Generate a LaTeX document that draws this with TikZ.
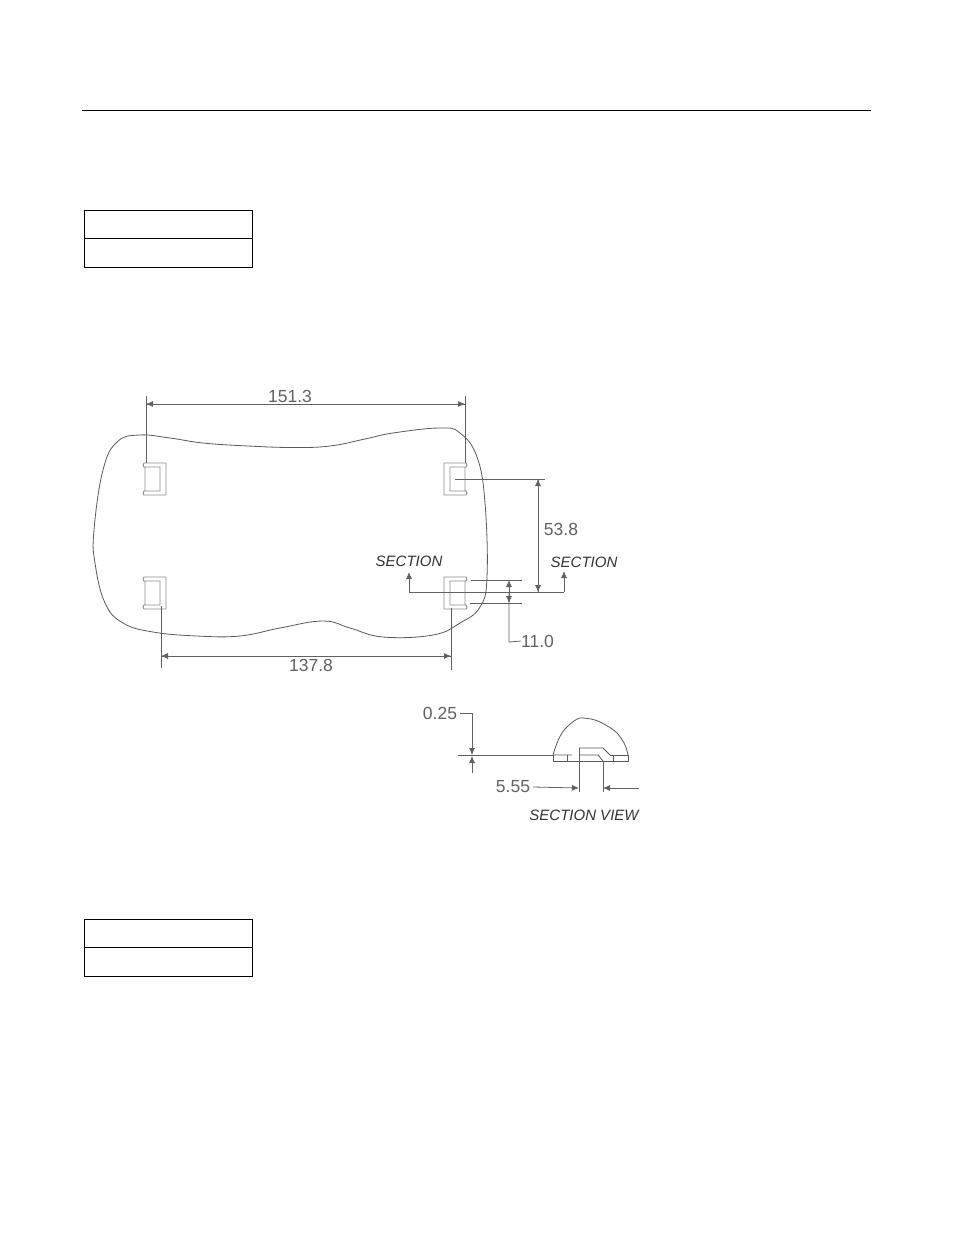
\documentclass[tikz,border=0pt]{standalone}
\usepackage{fontspec}
\setmainfont{Liberation Sans}
\usetikzlibrary{arrows.meta}
\definecolor{linegray}{gray}{0.38}
\tikzset{
  dimline/.style={draw=linegray,line width=0.8pt},
  dimtext/.style={text=linegray,inner sep=0pt,font=\fontsize{17.5}{20}\selectfont},
  sectext/.style={text=black!80,inner sep=0pt,font=\fontsize{15}{18}\selectfont\itshape},
  tip/.style={-{Latex[length=7pt,width=6pt]}},
  blockline/.style={draw=black,line width=0.9pt},
  partline/.style={draw=black!65,line width=0.8pt},
  clipline/.style={draw=black!45,line width=0.9pt,line join=round}
}
\begin{document}
\begin{tikzpicture}[x=1pt,y=-1pt]
\useasboundingbox[fill=white] (0,0) rectangle (954,1235);
\draw[black,line width=0.8pt] (82,110) -- (871,110); % top rule
\foreach \y in {210,919} % edit here for the two empty tables
{
\draw[blockline] (84,\y) rectangle (252,\y+57);
\draw[blockline] (84,\y+28.5) -- (252,\y+28.5);
}
% outline of the part
\draw[partline] plot[smooth cycle,tension=0.7] coordinates {(139,435) (170,438) (203,443) (248,446) (293,447.5) (330,446)
 (365,439) (393,433) (440,428) (460,433) (477,457) (485,503) (487,577) (480,607) (460,623) (433,635) (383,637)
 (350,628) (323,621) (280,628) (240,636) (197,636) (153,632) (123,623) (105,603) (95,563) (94,530) (103,470) (117,442)};
% clips, edit here for their places
\foreach \x/\y/\s in {143/463/1,143/577/1,467/463/-1,467/577/-1}
\draw[clipline,shift={(\x,\y)},xscale=\s] (1,4) -- (0,2) -- (1,0) -- (23,0) -- (23,32) -- (1,32) -- (0,30) -- (1,28)
 -- (17,28) -- (17,4) -- (1,4) -- cycle (2,4) -- (2,28);
% dimension 151.3
\coordinate (topa) at (146,404);
\coordinate (topb) at (465,404);
\draw[dimline] (146,396) -- (146,463);
\draw[dimline] (465,396) -- (465,463);
\draw[dimline,tip] (topb) -- (topa);
\draw[dimline,tip] (topa) -- (topb);
\node[dimtext] (lenTop) at (290,396) {151.3};
% dimension 137.8
\coordinate (bota) at (161,656);
\coordinate (botb) at (451,656);
\draw[dimline] (161,606) -- (161,668);
\draw[dimline] (451,608) -- (451,670);
\draw[dimline,tip] (botb) -- (bota);
\draw[dimline,tip] (bota) -- (botb);
\node[dimtext] (lenBot) at (311,665) {137.8};
% dimension 53.8
\coordinate (rgta) at (538,479);
\coordinate (rgtb) at (538,592);
\draw[dimline] (455,479) -- (545,479);
\draw[dimline,tip] (rgtb) -- (rgta);
\draw[dimline,tip] (rgta) -- (rgtb);
\node[dimtext] (lenRgt) at (561,529) {53.8};
% section line
\coordinate (secl) at (409,592);
\coordinate (secr) at (564,592);
\coordinate (secla) at (409,572);
\coordinate (secra) at (564,571);
\draw[dimline,tip] (secl) -- (secla);
\draw[dimline,tip] (secr) -- (secra);
\draw[dimline] (secl) -- (secr);
\node[sectext] (secL) at (409,561) {SECTION};
\node[sectext] (secR) at (584,562) {SECTION};
% dimension 11.0
\coordinate (elva) at (509,580);
\coordinate (elvb) at (509,603);
\coordinate (elvc) at (509,592);
\coordinate (elvd) at (509,642);
\draw[dimline] (471,580) -- (522,580);
\draw[dimline] (470,603) -- (522,603);
\draw[dimline,tip] (elvc) -- (elva);
\draw[dimline,tip] (elvc) -- (elvb);
\node[dimtext,anchor=west] (lenElv) at (521,641) {11.0};
\draw[dimline] (elvc) -- (elvd) -- (lenElv.west);
% section view
\draw[partline] (553,755) .. controls (556,745) and (560,733) .. (567,727) .. controls (572,722) and (576,719) .. (580,718)
 .. controls (590,718) and (596,720) .. (600,722) .. controls (608,726) and (613,729) .. (617,733)
 .. controls (623,740) and (626,745) .. (628,755);
\draw[partline] (553,755) -- (553,761) -- (628,761) -- (628,755) -- (610,755);
\draw[partline] (553,755) -- (572,755) (579,755) -- (598,755) -- (603,761);
\draw[partline] (567,755) -- (567,761) (613,755) -- (613,761);
\draw[partline] (579,748) -- (603,748) -- (610,755);
% dimension 0.25
\node[dimtext] (lenGap) at (440,713) {0.25};
\coordinate (gapa) at (472,745);
\coordinate (gapb) at (472,755);
\coordinate (gapc) at (472,773);
\coordinate (gapd) at (472,756);
\draw[dimline] (lenGap.east)+(3,0) -- (472,713) -- (gapa);
\draw[dimline,tip] (gapa) -- (gapb);
\draw[dimline,tip] (gapc) -- (gapd);
\draw[dimline,line width=1pt] (458,755) -- (553,755);
% dimension 5.55
\node[dimtext] (lenSlot) at (513,787) {5.55};
\coordinate (slota) at (579,788);
\coordinate (slotb) at (603,788);
\coordinate (slotc) at (639,788);
\draw[dimline] (579,748) -- (579,792);
\draw[dimline] (603,761) -- (603,792);
\draw[dimline,tip] (lenSlot.east)+(3,0) -- (slota);
\draw[dimline,tip] (slotc) -- (slotb);
\node[sectext] (secView) at (584,815) {SECTION VIEW};
\end{tikzpicture}
\end{document}
